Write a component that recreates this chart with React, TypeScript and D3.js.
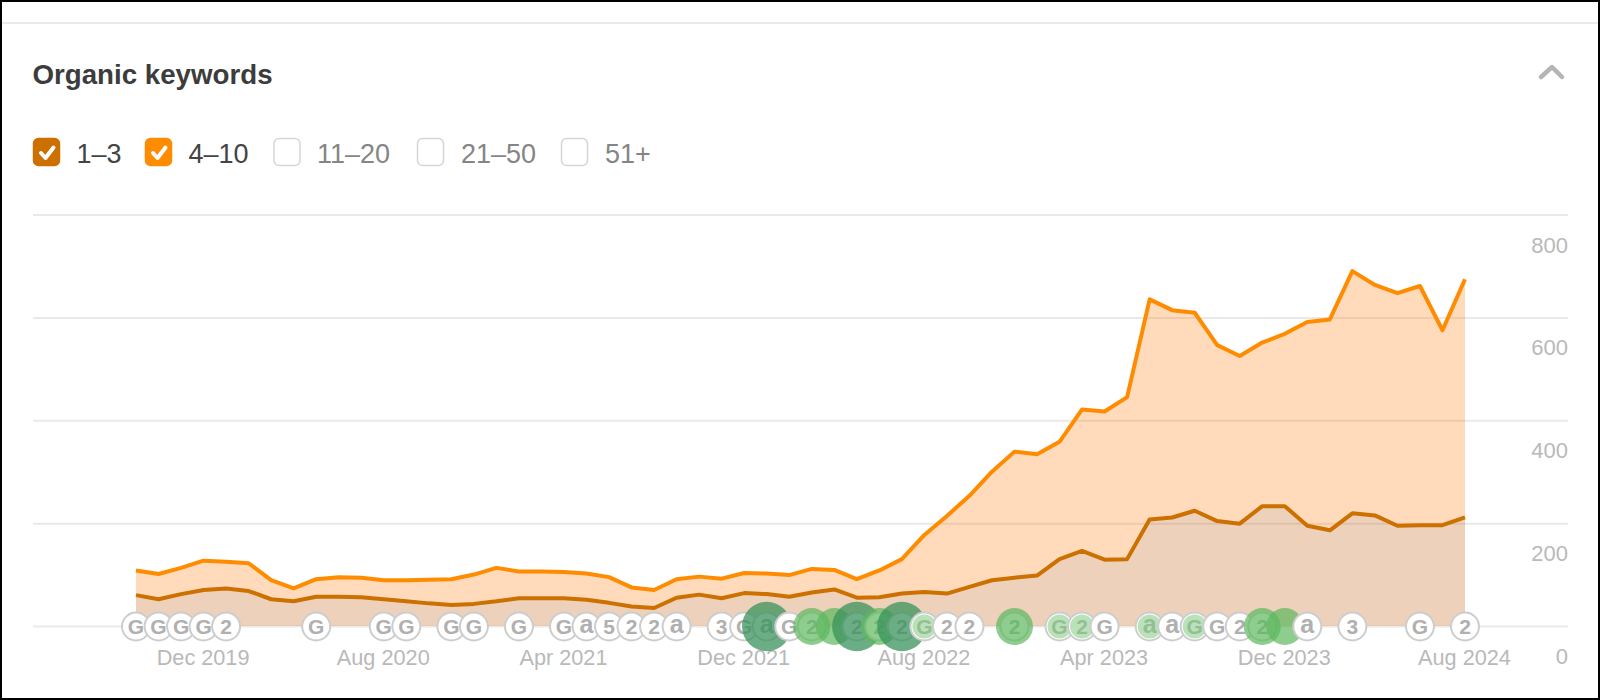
import { useRef, useEffect } from "react";
import * as d3 from "d3";

// monthly snapshots, Sep 2019 -> Aug 2024
const months: string[] = d3.timeMonth
  .range(new Date(2019, 8, 1), new Date(2024, 8, 1))
  .map((d) => d3.timeFormat("%b %Y")(d));

const dateTicks = ["Dec 2019", "Aug 2020", "Apr 2021", "Dec 2021", "Aug 2022", "Apr 2023", "Dec 2023", "Aug 2024"];
const valueTicks = [0, 200, 400, 600, 800];

// stacked tops
const top1to3 = [
  60, 52, 62, 70, 73, 68, 52, 48, 57, 57, 56, 52, 48, 44, 41, 43, 48, 54, 54, 54,
  51, 45, 38, 35, 55, 61, 54, 64, 62, 57, 65, 71, 55, 56, 63, 66, 63, 76, 89, 94,
  98, 130, 146, 129, 130, 207, 211, 224, 204, 199, 233, 233, 195, 186, 219, 215, 195, 196, 196, 211,
];
const top4to10 = [
  108, 101, 113, 127, 125, 122, 89, 73, 91, 95, 94, 89, 89, 90, 91, 100, 113, 106, 106, 105,
  102, 95, 75, 70, 91, 96, 92, 103, 102, 99, 111, 109, 91, 108, 130, 177, 214, 253, 300, 339,
  334, 358, 421, 417, 445, 635, 614, 609, 546, 525, 551, 568, 591, 596, 690, 663, 647, 661, 575, 674,
];

// update markers along the baseline
const eventMonths = [
  "Sep 2019", "Oct 2019", "Nov 2019", "Dec 2019", "Jan 2020", "May 2020", "Aug 2020", "Sep 2020", "Nov 2020", "Dec 2020",
  "Feb 2021", "Apr 2021", "May 2021", "Jun 2021", "Jul 2021", "Aug 2021", "Sep 2021", "Nov 2021", "Dec 2021", "Jan 2022",
  "Feb 2022", "Mar 2022", "Apr 2022", "May 2022", "Jun 2022", "Jul 2022", "Aug 2022", "Sep 2022", "Oct 2022", "Dec 2022",
  "Feb 2023", "Mar 2023", "Apr 2023", "Jun 2023", "Jul 2023", "Aug 2023", "Sep 2023", "Oct 2023", "Nov 2023", "Dec 2023",
  "Jan 2024", "Mar 2024", "Jun 2024", "Aug 2024",
];
const eventGlyphs = [
  "G", "G", "G", "G", "2", "G", "G", "G", "G", "G",
  "G", "G", "a", "5", "2", "2", "a", "3", "G", "a",
  "G", "2", "", "2", "2", "2", "G", "2", "2", "2",
  "G", "2", "G", "a", "a", "G", "G", "2", "2", "",
  "a", "3", "G", "2",
];
// 0 plain, 1 light, 2 medium, 3 large
const eventLevels = [
  0, 0, 0, 0, 0, 0, 0, 0, 0, 0,
  0, 0, 0, 0, 0, 0, 0, 0, 0, 3,
  0, 2, 2, 3, 2, 3, 1, 0, 0, 2,
  1, 1, 0, 1, 0, 1, 0, 0, 2, 2,
  0, 0, 0, 0,
];

const legendLabels = ["1–3", "4–10", "11–20", "21–50", "51+"];
const legendColors = ["#cc7000", "#ff8c00", null, null, null];

const width = 1600;
const height = 700;
const chart = { left: 33, right: 1568, top: 214.5, bottom: 626 };
const font = "Liberation Sans, Arial, sans-serif";

const App = () => {
  const svgRef = useRef<SVGSVGElement>(null);

  useEffect(() => {
    const svg: any = d3.select(svgRef.current);

    const x: any = d3.scalePoint().domain(months).range([136, 1465]);
    const y: any = d3.scaleLinear().domain([0, 800]).range([chart.bottom, chart.top]);

    // gridlines + value labels
    svg
      .select(".y-axis")
      .attr("transform", `translate(${chart.right},0)`)
      .call(d3.axisLeft(y).tickValues(valueTicks).tickSize(chart.right - chart.left).tickFormat(d3.format("d")))
      .call((g: any) => g.select(".domain").remove())
      .call((g: any) => g.selectAll("line").attr("stroke", "#e9e9e9").attr("stroke-width", 2))
      .call((g: any) =>
        g
          .selectAll("text")
          .attr("x", 0)
          .attr("dy", 0)
          .attr("y", 37.5)
          .attr("text-anchor", "end")
          .attr("fill", "#b9b9b9")
          .attr("font-size", 22)
          .attr("font-family", font)
      );

    svg
      .select(".x-axis")
      .attr("transform", `translate(0,${chart.bottom})`)
      .call(d3.axisBottom(x).tickValues(dateTicks).tickSize(0))
      .call((g: any) => g.select(".domain").remove())
      .call((g: any) =>
        g
          .selectAll("text")
          .attr("x", -1)
          .attr("y", 39)
          .attr("dy", 0)
          .attr("fill", "#b9b9b9")
          .attr("font-size", 21.7)
          .attr("font-family", font)
      );

    const bandTop = d3
      .area<string>()
      .x((d) => x(d))
      .y0((_, i) => y(top1to3[i]))
      .y1((_, i) => y(top4to10[i]));
    const bandLow = d3
      .area<string>()
      .x((d) => x(d))
      .y0(y(0))
      .y1((_, i) => y(top1to3[i]));
    svg.select(".band-top").attr("d", bandTop(months)).attr("fill", "#ff7f10").attr("fill-opacity", 0.28);
    svg.select(".band-low").attr("d", bandLow(months)).attr("fill", "#c66619").attr("fill-opacity", 0.3);

    const lineOf = (vals: number[]) =>
      d3
        .line<string>()
        .x((d) => x(d))
        .y((_, i) => y(vals[i]))(months);
    svg.select(".line-low").attr("d", lineOf(top1to3));
    svg.select(".line-top").attr("d", lineOf(top4to10));

    // markers, left to right so later ones sit on top
    const events = eventMonths.map((m, i) => ({ m, glyph: eventGlyphs[i], level: eventLevels[i] }));
    const ev = svg
      .select(".events")
      .selectAll("g")
      .data(events)
      .join("g")
      .attr("transform", (d: any) => `translate(${x(d.m)},${chart.bottom + 0.5})`);

    ev.filter((d: any) => d.glyph !== "")
      .append("circle")
      .attr("r", 14)
      .attr("fill", "#fff")
      .attr("stroke", "#cdcdcd")
      .attr("stroke-width", 2);
    ev.filter((d: any) => d.glyph !== "")
      .append("text")
      .text((d: any) => d.glyph)
      .attr("text-anchor", "middle")
      .attr("y", (d: any) => (d.glyph === "a" ? 6.5 : 7.5))
      .attr("fill", "#b0b0b0")
      .attr("font-family", font)
      .attr("font-weight", "bold")
      .attr("font-size", (d: any) => (d.glyph === "a" ? 25 : 21));
    ev.filter((d: any) => d.level > 0)
      .append("circle")
      .attr("r", (d: any) => [0, 12, 18.5, 24.7][d.level])
      .attr("fill", (d: any) => ["", "#7fcb7f", "#5cb85c", "#37925b"][d.level])
      .attr("fill-opacity", (d: any) => [0, 0.55, 0.7, 0.74][d.level]);

    // legend
    const xs = [33, 145, 273.5, 417, 561];
    const textXs = [76.5, 188.5, 317, 461, 605];
    const items = svg
      .select(".legend")
      .selectAll("g")
      .data(legendLabels)
      .join("g");
    items
      .append("rect")
      .attr("x", (_: any, i: number) => xs[i] + 0.5)
      .attr("y", 138.5)
      .attr("width", 26)
      .attr("height", 27)
      .attr("rx", 5)
      .attr("fill", (_: any, i: number) => legendColors[i] ?? "#fff")
      .attr("stroke", (_: any, i: number) => legendColors[i] ?? "#d6d6d6")
      .attr("stroke-width", 1.5);
    items
      .filter((_: any, i: number) => legendColors[i])
      .append("path")
      .attr("d", (_: any, i: number) => `M${xs[i] + 8},153 l4.5,5 l8,-10.5`)
      .attr("fill", "none")
      .attr("stroke", "#fff")
      .attr("stroke-width", 4)
      .attr("stroke-linecap", "round")
      .attr("stroke-linejoin", "round");
    items
      .append("text")
      .text((d: string) => d)
      .attr("x", (_: any, i: number) => textXs[i])
      .attr("y", 162.5)
      .attr("font-family", font)
      .attr("font-size", 27)
      .attr("fill", (_: any, i: number) => (legendColors[i] ? "#444" : "#858585"));
  }, []);

  return (
    <svg
      ref={svgRef}
      width={width}
      height={height}
      style={{ position: "fixed", top: 0, left: 0, background: "#fff" }}
    >
      <line x1={2} x2={1598} y1={23} y2={23} stroke="#e9e9e9" strokeWidth={2} />
      <text x={32.5} y={83.5} fontFamily={font} fontWeight="bold" fontSize={27.7} fill="#3c3c3c">
        Organic keywords
      </text>
      <path d="M1541,77 L1552,67 L1562,77" fill="none" stroke="#b5b5b5" strokeWidth={4.5} strokeLinecap="round" strokeLinejoin="round" />
      <g className="legend" />
      <g className="y-axis" />
      <g className="x-axis" />
      <path className="band-top" />
      <path className="band-low" />
      <path className="line-low" fill="none" stroke="#cc7000" strokeWidth={4} strokeLinejoin="round" />
      <path className="line-top" fill="none" stroke="#ff8c00" strokeWidth={4} strokeLinejoin="round" />
      <g className="events" />
      <rect x={1} y={1} width={1598} height={698} fill="none" stroke="#000" strokeWidth={2} />
    </svg>
  );
};

export default App;
